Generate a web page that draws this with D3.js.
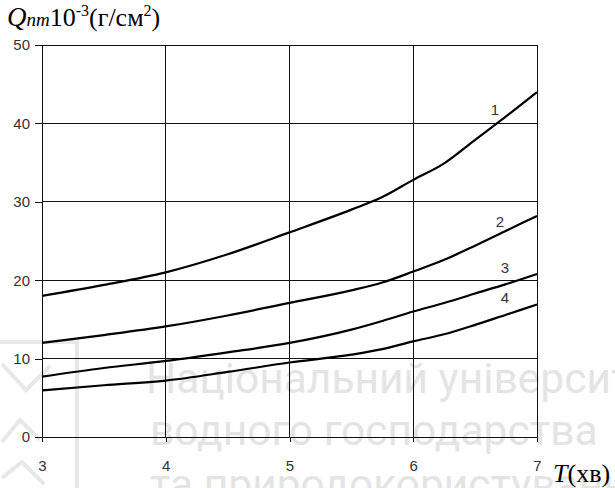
<!DOCTYPE html>
<html>
<head>
<meta charset="utf-8">
<script src="https://cdn.jsdelivr.net/npm/d3@7"></script>
<style>
  html, body { margin: 0; padding: 0; background: #fff; }
  svg { display: block; }
</style>
</head>
<body>
<div id="chart"></div>
<script>
// data
const tValues = [3, 3.5, 4, 4.5, 5, 5.5, 5.75, 6, 6.25, 6.5, 6.75, 7];
const curve1 = [18.0, 19.4, 21.0, 23.3, 26.1, 29.0, 30.6, 32.8, 34.9, 37.9, 40.9, 44.0];
const curve2 = [12.0, 13.0, 14.1, 15.5, 17.1, 18.7, 19.7, 21.1, 22.6, 24.4, 26.3, 28.2];
const curve3 = [7.7, 8.8, 9.7, 10.8, 12.0, 13.7, 14.8, 16.0, 17.1, 18.3, 19.5, 20.8];
const curve4 = [5.95, 6.6, 7.2, 8.3, 9.5, 10.5, 11.2, 12.2, 13.1, 14.3, 15.6, 16.9];
const curveNames = ["1", "2", "3", "4"];
const labelT = [6.66, 6.70, 6.74, 6.74];
const labelQ = [41.6, 27.3, 21.4, 17.6];
const xTicks = [3, 4, 5, 6, 7];
const yTicks = [0, 10, 20, 30, 40, 50];

const width = 615;
const height = 488;

const x = d3.scaleLinear().domain([3, 7]).range([42, 537]);
const y = d3.scaleLinear().domain([0, 50]).range([437, 45]);

const svg = d3.select("#chart").append("svg")
  .attr("width", width)
  .attr("height", height);

// faint watermark behind the chart
const wm = svg.append("g").attr("fill", "none").attr("stroke", "#e8e8e8").attr("stroke-width", 4);
wm.append("path").attr("d", "M0,342 H77 V488");
wm.append("path").attr("d", "M2,364 L26,390 L50,366");
wm.append("path").attr("d", "M2,442 L20,420 L40,440");
wm.append("path").attr("d", "M2,478 L22,462 L44,484");
const wmText = svg.append("g")
  .attr("fill", "#e4e4e4")
  .style("font-family", "Roboto, 'Open Sans', sans-serif")
  .style("font-size", "42.5px");
wmText.append("text").attr("x", 146).attr("y", 393).text("Національний університет");
wmText.append("text").attr("x", 150).attr("y", 445).text("водного господарства");
wmText.append("text").attr("x", 150).attr("y", 499).text("та природокористування");

// grid
const grid = svg.append("g").attr("stroke", "#111").attr("stroke-width", 1).attr("shape-rendering", "crispEdges");
grid.selectAll("line.h")
  .data(yTicks.filter(d => d > 0))
  .join("line")
  .attr("class", "h")
  .attr("x1", x(3)).attr("x2", x(7))
  .attr("y1", d => y(d)).attr("y2", d => y(d));
grid.selectAll("line.v")
  .data(xTicks.filter(d => d > 3))
  .join("line")
  .attr("class", "v")
  .attr("x1", d => x(d)).attr("x2", d => x(d))
  .attr("y1", y(50)).attr("y2", y(0));

// axes
const yAxis = svg.append("g")
  .attr("transform", `translate(${x(3)},0)`)
  .call(d3.axisLeft(y).tickValues(yTicks).tickSize(7).tickPadding(5).tickFormat(d3.format("d")));
const xAxis = svg.append("g")
  .attr("transform", `translate(0,${y(0)})`)
  .call(d3.axisBottom(x).tickValues(xTicks).tickSize(5).tickPadding(18).tickFormat(d3.format("d")));

[yAxis, xAxis].forEach(g => {
  g.select(".domain").attr("stroke", "#111").attr("shape-rendering", "crispEdges");
  g.selectAll(".tick line").attr("stroke", "#111").attr("shape-rendering", "crispEdges");
  g.selectAll("text")
    .attr("fill", "#333")
    .style("font-family", "'Liberation Sans', Arial, sans-serif")
    .style("font-size", "15px");
});
yAxis.select(".domain").attr("d", `M0,${y(50)}V${y(0) + 5}`);

// curves
const series = [curve1, curve2, curve3, curve4];
const line = d3.line()
  .x((d, i) => x(tValues[i]))
  .y(d => y(d))
  .curve(d3.curveMonotoneX);

svg.append("g")
  .selectAll("path")
  .data(series)
  .join("path")
  .attr("fill", "none")
  .attr("stroke", "#000")
  .attr("stroke-width", 2.2)
  .attr("d", line);

svg.append("g")
  .selectAll("text")
  .data(curveNames)
  .join("text")
  .attr("x", (d, i) => x(labelT[i]))
  .attr("y", (d, i) => y(labelQ[i]))
  .attr("text-anchor", "middle")
  .attr("dominant-baseline", "middle")
  .attr("fill", "#333")
  .style("font-family", "'Liberation Sans', Arial, sans-serif")
  .style("font-size", "15px")
  .text(d => d);

// axis titles
const yTitle = svg.append("text")
  .attr("x", 7).attr("y", 26)
  .attr("fill", "#000")
  .style("font-family", "'Liberation Serif', 'Times New Roman', serif")
  .style("font-size", "26px");
yTitle.append("tspan").style("font-style", "italic").style("font-size", "27px").text("Q");
yTitle.append("tspan").style("font-style", "italic").style("font-size", "19px").text("nm");
yTitle.append("tspan").text("10");
yTitle.append("tspan").style("font-size", "16px").attr("dy", -10).text("-3");
yTitle.append("tspan").attr("dy", 10).text("(г/см");
yTitle.append("tspan").style("font-size", "16px").attr("dy", -10).text("2");
yTitle.append("tspan").attr("dy", 10).text(")");

const xTitle = svg.append("text")
  .attr("x", 553).attr("y", 482)
  .attr("fill", "#000")
  .style("font-family", "'Liberation Serif', 'Times New Roman', serif")
  .style("font-size", "26px");
xTitle.append("tspan").style("font-style", "italic").text("T");
xTitle.append("tspan").text("(хв)");
</script>
</body>
</html>
